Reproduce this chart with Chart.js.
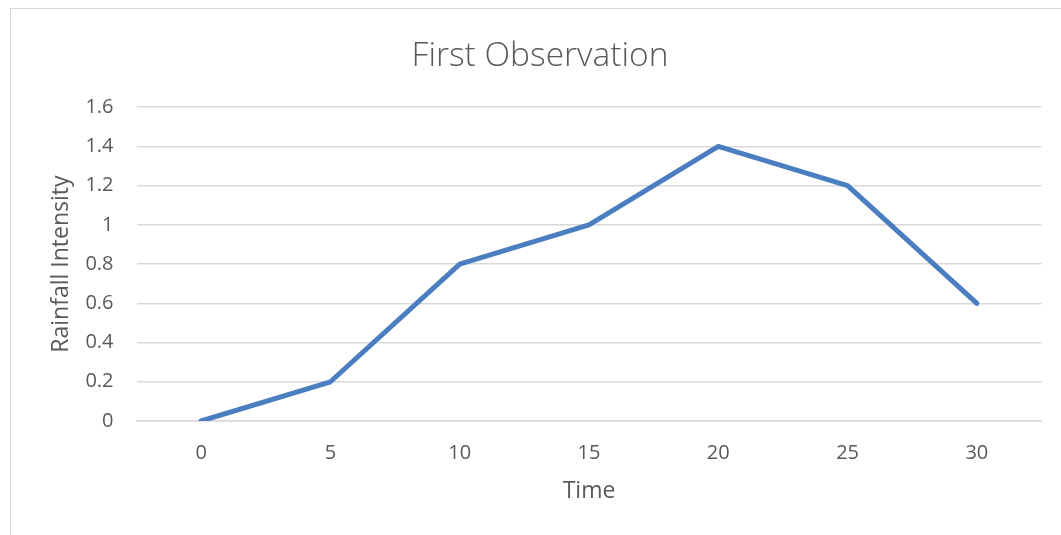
<!DOCTYPE html>
<html>
<head>
<meta charset="utf-8">
<script src="https://cdn.jsdelivr.net/npm/chart.js@4.4.1/dist/chart.umd.min.js"></script>
<style>
  html, body { margin: 0; padding: 0; background: #fff; overflow: hidden; }
  #wrap { position: relative; width: 1061px; height: 535px; }
  #frame { position: absolute; left: 10px; top: 8px; width: 1100px; height: 600px; border: 1px solid #D9D9D9; box-sizing: border-box; }
  canvas { position: absolute; left: 0; top: 0; }
</style>
</head>
<body>
<div id="wrap">
  <div id="frame"></div>
  <canvas id="c" width="1061" height="535"></canvas>
</div>
<script>
const chartTitle = "First Observation";
const xAxisTitle = "Time";
const yAxisTitle = "Rainfall Intensity";
const categories = ["0", "5", "10", "15", "20", "25", "30"];
const rainfall = [0, 0.2, 0.8, 1.0, 1.4, 1.2, 0.6];
const yMin = 0, yMax = 1.6, yStep = 0.2;

const textColor = "#595959";
const gridColor = "#D9D9D9";
const fontFamily = "'Open Sans', 'Noto Sans', sans-serif";

new Chart(document.getElementById("c"), {
  type: "line",
  data: {
    labels: categories,
    datasets: [{
      label: "Rainfall Intensity",
      data: rainfall,
      borderColor: "#4A7EC0",
      backgroundColor: "#4A7EC0",
      borderWidth: 5,
      borderCapStyle: "round",
      borderJoinStyle: "round",
      pointRadius: 0,
      pointHoverRadius: 0,
      tension: 0,
      fill: false
    }]
  },
  options: {
    responsive: false,
    animation: false,
    devicePixelRatio: 1,
    layout: { padding: { left: 38.5, right: 19.5, top: 0, bottom: 0 } },
    plugins: {
      legend: { display: false },
      tooltip: { enabled: false },
      title: {
        display: true,
        text: chartTitle,
        color: textColor,
        font: { family: fontFamily, size: 33.5, weight: "300" },
        padding: { top: 36, bottom: 31 }
      }
    },
    scales: {
      x: {
        type: "category",
        offset: true,
        grid: { display: false, drawTicks: false },
        border: { display: true, color: gridColor, width: 1.5 },
        ticks: { color: textColor, font: { family: fontFamily, size: 20 }, padding: 20, maxRotation: 0 },
        title: { display: true, text: xAxisTitle, color: textColor, font: { family: fontFamily, size: 23 }, padding: { top: 0, bottom: 30 } },
        afterFit: (s) => { s.height = 114; }
      },
      y: {
        min: yMin, max: yMax,
        grid: { color: gridColor, lineWidth: 1.5, drawTicks: false },
        border: { display: false },
        ticks: {
          stepSize: yStep, color: textColor, font: { family: fontFamily, size: 20 }, padding: 23,
          callback: (v) => String(Math.round(v * 10) / 10)
        },
        title: { display: true, text: yAxisTitle, color: textColor, font: { family: fontFamily, size: 23 }, padding: { top: 9.5, bottom: 0 } },
        afterFit: (s) => { s.width = 98; }
      }
    }
  }
});
</script>
</body>
</html>
